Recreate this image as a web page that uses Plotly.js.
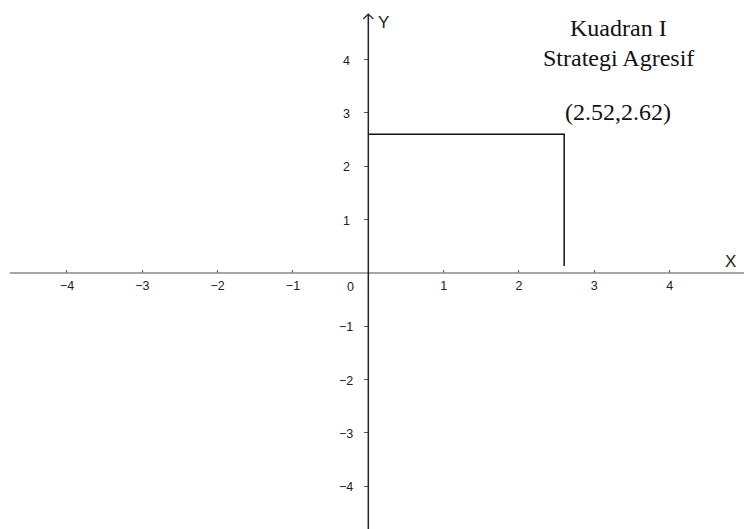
<!DOCTYPE html>
<html>
<head>
<meta charset="utf-8">
<script src="https://cdn.plot.ly/plotly-3.0.1.min.js"></script>
<style>
  html, body { margin: 0; padding: 0; background: #fff; }
  #chart { width: 744px; height: 529px; }
</style>
</head>
<body>
<div id="chart"></div>
<script>
// axis ticks (0 is labelled separately, GeoGebra style)
var xTicks = [-4, -3, -2, -1, 1, 2, 3, 4];
var yTicks = [-4, -3, -2, -1, 1, 2, 3, 4];

// the plotted point and its label
var pointX = 2.6;
var pointY = 2.6;
var pointLabel = '(2.52,2.62)';
var quadrantLines = ['Kuadran I', 'Strategi Agresif'];

var xRange = [-4.889, 4.987];
var yRange = [-4.80, 5.118];

var guide = {
  x: [0, pointX, pointX],
  y: [pointY, pointY, 0.13],
  type: 'scatter',
  mode: 'lines',
  line: {color: '#111', width: 1.5},
  hoverinfo: 'skip'
};

var sans = 'Liberation Sans, Arial, sans-serif';
var serif = 'Liberation Serif, Times New Roman, serif';
var tickFont = {family: sans, size: 12.5, color: '#222'};

var annots = [
  {x: 0, y: 0, xref: 'x', yref: 'y', text: '0', showarrow: false,
   xshift: -18, yshift: -14, font: tickFont},
  {x: 4.81, y: 0.22, xref: 'x', yref: 'y', text: 'X', showarrow: false,
   font: {family: sans, size: 17, color: '#222'}},
  {x: 0, y: 4.7, xref: 'x', yref: 'y', text: 'Y', showarrow: false,
   xshift: 15, font: {family: sans, size: 17, color: '#222'}},
  {x: 3.315, y: 4.59, xref: 'x', yref: 'y', text: quadrantLines[0], showarrow: false,
   font: {family: serif, size: 24, color: '#111'}},
  {x: 3.315, y: 4.03, xref: 'x', yref: 'y', text: quadrantLines[1], showarrow: false,
   font: {family: serif, size: 24, color: '#111'}},
  {x: 3.315, y: 3.02, xref: 'x', yref: 'y', text: pointLabel, showarrow: false,
   font: {family: serif, size: 24, color: '#111'}}
];

// y tick labels are centred left of the axis, as GeoGebra draws them
yTicks.forEach(function (v) {
  annots.push({x: 0, y: v, xref: 'x', yref: 'y', showarrow: false,
    text: (v < 0 ? '\u2212' : '') + Math.abs(v), xshift: -22, yshift: -1, font: tickFont});
});

var layout = {
  width: 744,
  height: 529,
  margin: {l: 0, r: 0, t: 0, b: 0},
  showlegend: false,
  plot_bgcolor: '#fff',
  paper_bgcolor: '#fff',
  xaxis: {
    range: xRange,
    anchor: 'free',
    position: (0 - yRange[0]) / (yRange[1] - yRange[0]),
    tickvals: xTicks,
    ticks: 'inside',
    ticklen: 3,
    tickcolor: '#555',
    ticklabelstandoff: 4,
    tickfont: tickFont,
    showgrid: false,
    zeroline: false,
    showline: false,
    fixedrange: true
  },
  yaxis: {
    range: yRange,
    anchor: 'free',
    position: (0 - xRange[0]) / (xRange[1] - xRange[0]),
    tickvals: yTicks,
    ticks: 'outside',
    ticklen: 4,
    tickcolor: '#555',
    showticklabels: false,
    showgrid: false,
    zeroline: false,
    showline: false,
    fixedrange: true
  },
  shapes: [
    // x axis
    {type: 'line', xref: 'x', yref: 'y', x0: -4.76, x1: xRange[1], y0: 0, y1: 0,
     line: {color: '#888', width: 1.5}},
    // y axis
    {type: 'line', xref: 'x', yref: 'y', x0: 0, x1: 0, y0: yRange[0], y1: 4.855,
     line: {color: '#222', width: 1.5}},
    // arrow tip on y axis
    {type: 'path', xref: 'x', yref: 'y', xsizemode: 'pixel', ysizemode: 'pixel',
     xanchor: 0, yanchor: 4.855, path: 'M-5,-5 L0,0 L5,-5',
     line: {color: '#222', width: 1.2}}
  ],
  annotations: annots
};

Plotly.newPlot('chart', [guide], layout, {displayModeBar: false, staticPlot: true});
</script>
</body>
</html>
